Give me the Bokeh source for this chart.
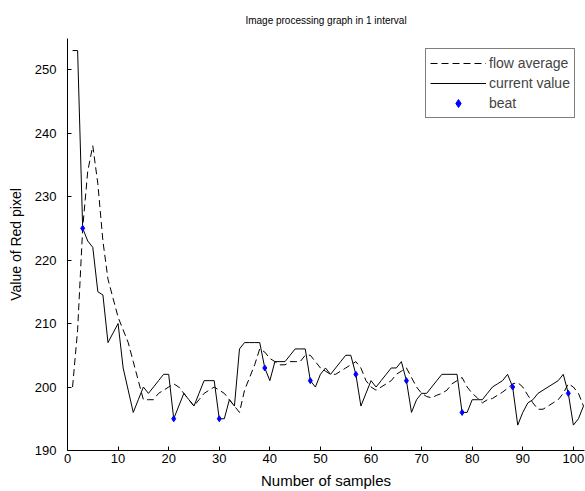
from bokeh.plotting import figure
from bokeh.models import Range1d, FixedTicker, Legend, LegendItem
from bokeh.embed import file_html
from bokeh.resources import INLINE

samples = list(range(1, 103))

current_value = [
    253, 253, 225, 223, 222, 215, 214.5, 207, 208.5, 210,
    203, 199.5, 196, 198, 200, 199, 200, 201, 202, 202,
    195, 197, 199, 198, 197, 199, 201, 201, 201, 195,
    195, 198, 197, 206, 207, 207, 207, 207, 203, 201,
    204, 204, 204, 205, 206, 206, 206, 201, 200, 202,
    203, 202, 203, 204, 205, 205, 202, 197, 199, 201,
    200, 201, 202, 203, 203, 204, 201, 196, 198, 199,
    199, 200, 201, 202, 202, 202, 202, 196, 196, 198,
    198, 198, 199, 200, 200.5, 201, 202, 200, 194, 196,
    197.5, 198, 199, 199.5, 200, 200.5, 201, 202, 199, 194,
    195, 197,
]

flow_average = [
    200, 209, 225, 234, 238, 232, 223, 217, 214, 211,
    209, 207, 204, 201, 198, 198, 198, 199, 199.5, 200,
    200.5, 200, 199, 198, 197, 198, 199, 199.5, 200, 199.5,
    199, 198, 197, 196, 199.5, 201.5, 203.5, 206, 205.5, 204.5,
    204, 203.5, 203.5, 204, 204, 204, 205, 205, 204, 203,
    202.5, 202, 202, 202.5, 203, 203.5, 204, 203, 201, 200,
    199.5, 200, 200.5, 201, 202, 202.5, 203, 201.5, 200, 199,
    198.5, 198.3, 198.7, 199, 199.5, 200.5, 201, 201.5, 200, 199,
    198.3, 197.5, 198, 198.2, 198.7, 199.2, 199.8, 200.5, 200.7, 200,
    198.7, 197.5, 196.5, 196.5, 197, 197.5, 198, 199, 200.5, 200,
    199, 197,
]

beat_x = [3, 21, 30, 39, 48, 57, 67, 78, 88, 99]
beat_y = [225, 195, 195, 203, 201, 202, 201, 196, 200, 199]

x_ticks = [0, 10, 20, 30, 40, 50, 60, 70, 80, 90, 100]
y_ticks = [190, 200, 210, 220, 230, 240, 250]

FONT = "Liberation Sans"

p = figure(width=585, height=491, output_backend="svg", toolbar_location=None,
           x_range=Range1d(0, 102.2), y_range=Range1d(190, 254.9),
           min_border_left=67, min_border_right=1, min_border_top=38, min_border_bottom=41)

p.title.text = "Image processing graph in 1 interval"
p.title.text_font = FONT
p.title.text_font_size = "10px"
p.title.text_font_style = "normal"
p.title.align = "center"
p.title.text_color = "#000000"
p.title.standoff = 25

p.outline_line_color = None
p.xgrid.visible = False
p.ygrid.visible = False

for ax in (p.xaxis[0], p.yaxis[0]):
    ax.major_tick_in = 4
    ax.major_tick_out = 0
    ax.minor_tick_line_color = None
    ax.major_label_text_font = FONT
    ax.major_label_text_font_size = "13px"
    ax.major_label_text_color = "#000000"
    ax.axis_label_text_font = FONT
    ax.axis_label_text_font_style = "normal"
    ax.axis_label_text_color = "#000000"
    ax.axis_line_color = "#000000"
    ax.major_tick_line_color = "#000000"

p.xaxis.axis_label_text_font_size = "15px"
p.yaxis.axis_label_text_font_size = "14px"
p.xaxis.ticker = FixedTicker(ticks=x_ticks)
p.yaxis.ticker = FixedTicker(ticks=y_ticks)
p.xaxis.axis_label = "Number of samples"
p.yaxis.axis_label = "Value of Red pixel"
p.xaxis.axis_label_standoff = 6
p.yaxis.axis_label_standoff = 8
p.xaxis.major_label_standoff = 3
p.yaxis.major_label_standoff = 11

r_avg = p.line(samples, flow_average, line_color="black", line_width=1, line_dash="7 4")
r_cur = p.line(samples, current_value, line_color="black", line_width=1)
r_beat = p.scatter(beat_x, beat_y, marker="diamond", size=6, color="blue")

legend = Legend(items=[
    LegendItem(label="flow average", renderers=[r_avg]),
    LegendItem(label="current value", renderers=[r_cur]),
    LegendItem(label="beat", renderers=[r_beat]),
], location=(358, 332))
legend.label_text_font = FONT
legend.label_text_font_size = "14px"
legend.glyph_width = 56
legend.glyph_height = 20
legend.label_height = 20
legend.spacing = 0
legend.padding = 4
legend.margin = 0
legend.label_standoff = 3
legend.border_line_color = "black"
legend.border_line_width = 1
legend.background_fill_alpha = 1.0
p.add_layout(legend, "center")

open("out.html", "w").write(file_html(p, INLINE))
